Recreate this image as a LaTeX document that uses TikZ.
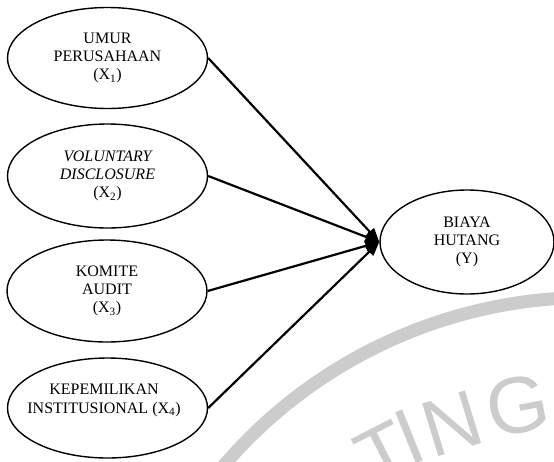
\documentclass[tikz,border=0pt]{standalone}
\usepackage{fontspec}
\setmainfont{Liberation Serif}
\newfontfamily\wmfont{Liberation Sans}
\usetikzlibrary{shapes.geometric,arrows.meta}
\begin{document}
\begin{tikzpicture}[x=1pt,y=-1pt,
  var/.style={ellipse,draw,line width=1.4pt,minimum width=200pt,minimum height=101pt,inner sep=0pt,align=center,font=\fontsize{16}{18}\selectfont},
  lbl/.style={align=center,font=\fontsize{16}{19}\selectfont,inner sep=0pt},
  link/.style={line width=2.2pt,-{Triangle[length=14pt,width=11pt]}},
  wm/.style={text=black!20,font=\wmfont\fontsize{80}{80}\selectfont,inner sep=0pt}
]
\useasboundingbox (0,0) rectangle (554,461);
% watermark
\begin{scope}
\clip (0,0) rectangle (554,461);
\draw[black!20,line width=13pt] (589,778.5) ++(-80:481) arc[start angle=-80,end angle=-150,radius=481];
\node[wm,rotate=27] (wT) at (384,454) {T};
\node[wm,rotate=22] (wI) at (409,437) {I};
\node[wm,rotate=17] (wN) at (452,424) {N};
\node[wm,rotate=11] (wG) at (518,406) {G};
\end{scope}
% variables
\node[var] (X1) at (107.5,58) {UMUR\\PERUSAHAAN\\(X\textsubscript{1})};
\node[var,minimum height=104pt] (X2) at (107.5,176) {\itshape VOLUNTARY\\\itshape DISCLOSURE\\(X\textsubscript{2})};
\node[var,minimum height=102pt] (X3) at (107,291) {KOMITE\\AUDIT\\(X\textsubscript{3})};
\node[var,minimum height=100pt] (X4) at (107.5,408) {};
\node[lbl] (X4t) at (104,400) {KEPEMILIKAN\\INSTITUSIONAL (X\textsubscript{4})};
\node[var,minimum width=174pt,minimum height=104pt] (Y) at (467,242) {BIAYA\\HUTANG\\(Y)};
% connectors
\draw[link] (X1.east) -- (Y.west);
\draw[link] (X2.east) -- (Y.west);
\draw[link] (X3.east) -- (Y.west);
\draw[link] (X4.east) -- (Y.west);
\end{tikzpicture}
\end{document}
